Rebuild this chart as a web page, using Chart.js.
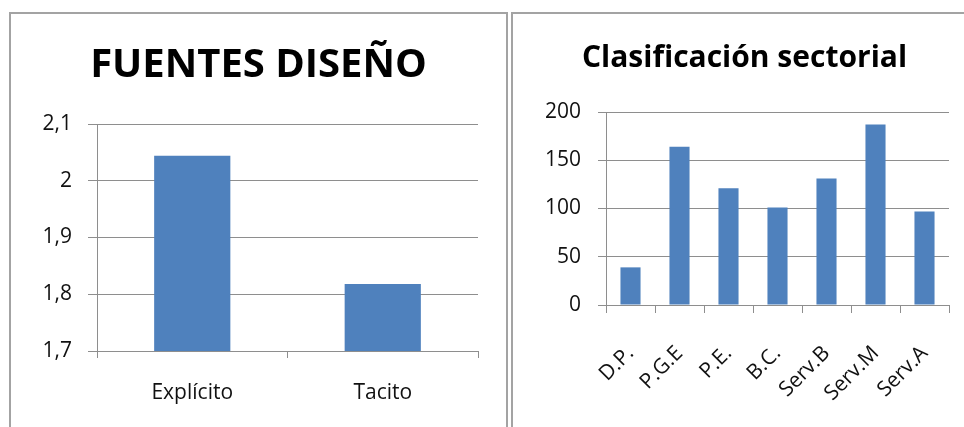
<!DOCTYPE html>
<html>
<head>
<meta charset="utf-8">
<script src="https://cdn.jsdelivr.net/npm/chart.js@4"></script>
<style>
  body { margin: 0; background: #fff; width: 964px; height: 427px; overflow: hidden; position: relative; }
  .box { position: absolute; box-sizing: border-box; border: 2px solid #a3a3a3; border-bottom: none; }
  #box1 { left: 9px; top: 12px; width: 499px; height: 420px; }
  #box2 { left: 511px; top: 12px; width: 460px; height: 420px; border-right: none; }
  canvas { position: absolute; top: 0; }
  #fuentesChart { left: 0; }
  #sectorChart { left: 513px; }
</style>
</head>
<body>
<div class="box" id="box1"></div>
<div class="box" id="box2"></div>
<canvas id="fuentesChart" width="505" height="427"></canvas>
<canvas id="sectorChart" width="451" height="427"></canvas>
<script>
document.addEventListener("DOMContentLoaded", function () {
    // Left chart data
    const fuentesLabels = ["Explícito", "Tacito"];
    const fuentesValues = [2.044, 1.818];
    const fuentesTicks = ["1,7", "1,8", "1,9", "2", "2,1"];

    // Right chart data
    const sectorLabels = ["D.P.", "P.G.E", "P.E.", "B.C.", "Serv.B", "Serv.M", "Serv.A"];
    const sectorValues = [39, 164, 121, 101, 131, 187, 97];
    const sectorTicks = ["0", "50", "100", "150", "200"];

    const barColor = "#4f81bd";
    const gridColor = "#8e8e8e";
    const textColor = "#111";
    const fontFamily = "'Open Sans', sans-serif";
    const tickFont = { family: fontFamily, size: 21 };

    // Chart for FUENTES DISEÑO
    new Chart(document.getElementById("fuentesChart"), {
        type: "bar",
        data: {
            labels: fuentesLabels,
            datasets: [{
                data: fuentesValues,
                backgroundColor: barColor,
                borderWidth: 0,
                categoryPercentage: 1,
                barPercentage: 0.4,
            }],
        },
        options: {
            responsive: false,
            animation: false,
            layout: { padding: { left: 39, right: 27, top: 0, bottom: 0 } },
            plugins: {
                legend: { display: false },
                tooltip: { enabled: false },
                title: {
                    display: true,
                    text: "FUENTES DISEÑO",
                    color: "#000",
                    font: { family: fontFamily, size: 40, weight: "bold" },
                    padding: { top: 42, bottom: 34 },
                },
            },
            scales: {
                x: {
                    grid: { drawOnChartArea: false, color: gridColor, tickLength: 7 },
                    border: { color: gridColor },
                    ticks: { color: textColor, font: tickFont, padding: 22, maxRotation: 0 },
                    afterFit: (scale) => {
                        scale.height = 76;
                        scale.paddingLeft = 0;
                        scale.paddingRight = 0;
                    },
                },
                y: {
                    min: 1.7,
                    max: 2.1,
                    grid: { color: gridColor, tickLength: 9 },
                    border: { color: gridColor },
                    ticks: {
                        stepSize: 0.1,
                        color: textColor,
                        font: tickFont,
                        padding: 16,
                        callback: (value, index) => fuentesTicks[index],
                    },
                    afterFit: (scale) => { scale.width = 58; },
                },
            },
        },
    });

    // Chart for Clasificación sectorial
    new Chart(document.getElementById("sectorChart"), {
        type: "bar",
        data: {
            labels: sectorLabels,
            datasets: [{
                data: sectorValues,
                backgroundColor: barColor,
                borderWidth: 0,
                categoryPercentage: 1,
                barPercentage: 0.41,
            }],
        },
        options: {
            responsive: false,
            animation: false,
            layout: { padding: { left: 27, right: 15, top: 0, bottom: 0 } },
            plugins: {
                legend: { display: false },
                tooltip: { enabled: false },
                title: {
                    display: true,
                    text: "Clasificación sectorial",
                    color: "#000",
                    font: { family: fontFamily, size: 30, weight: "bold" },
                    padding: { top: 40, bottom: 36 },
                },
            },
            scales: {
                x: {
                    grid: { drawOnChartArea: false, color: gridColor, tickLength: 8 },
                    border: { color: gridColor },
                    ticks: {
                        color: textColor,
                        font: tickFont,
                        padding: 28,
                        minRotation: 45,
                        maxRotation: 45,
                        autoSkip: false,
                    },
                    afterFit: (scale) => {
                        scale.height = 122;
                        scale.paddingLeft = 0;
                        scale.paddingRight = 0;
                    },
                },
                y: {
                    min: 0,
                    max: 200,
                    grid: { color: gridColor, tickLength: 8 },
                    border: { color: gridColor },
                    ticks: {
                        stepSize: 50,
                        color: textColor,
                        font: tickFont,
                        padding: 17,
                        callback: (value, index) => sectorTicks[index],
                    },
                    afterFit: (scale) => { scale.width = 66; },
                },
            },
        },
    });
});
</script>
</body>
</html>
